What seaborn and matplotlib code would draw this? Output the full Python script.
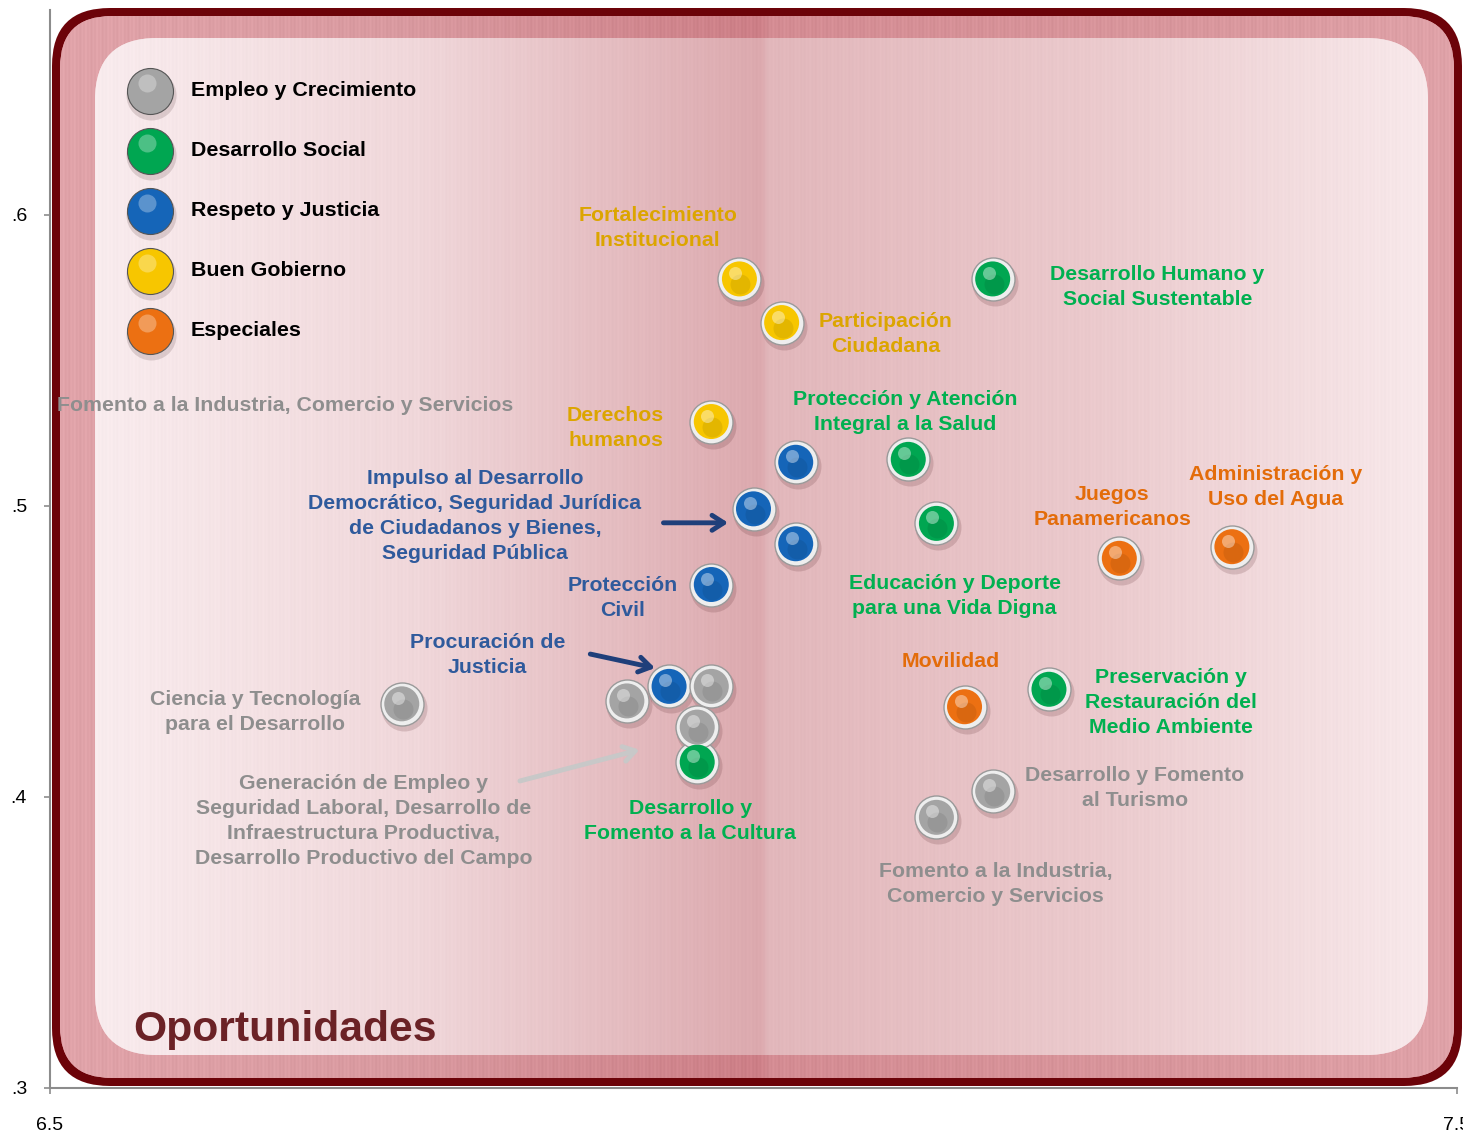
import numpy as np
import pandas as pd
import matplotlib
matplotlib.use("Agg")
import matplotlib.pyplot as plt
import seaborn as sns
from matplotlib.patches import FancyBboxPatch
from matplotlib.colors import to_rgb
from matplotlib.transforms import offset_copy

# ---------------- data ----------------
categories = ["Empleo y Crecimiento", "Desarrollo Social", "Respeto y Justicia",
              "Buen Gobierno", "Especiales"]
ball_colors = ["#a4a4a4", "#00a651", "#1565b8", "#f7c600", "#ec7012"]

point_group = ["Buen Gobierno", "Buen Gobierno", "Buen Gobierno",
               "Desarrollo Social", "Desarrollo Social", "Desarrollo Social",
               "Desarrollo Social", "Desarrollo Social",
               "Respeto y Justicia", "Respeto y Justicia", "Respeto y Justicia",
               "Respeto y Justicia", "Respeto y Justicia",
               "Empleo y Crecimiento", "Empleo y Crecimiento", "Empleo y Crecimiento",
               "Empleo y Crecimiento", "Empleo y Crecimiento", "Empleo y Crecimiento",
               "Especiales", "Especiales", "Especiales"]
point_x = [6.990, 7.020, 6.970,
           7.170, 7.110, 7.130, 7.210, 6.960,
           7.030, 7.000, 7.030, 6.970, 6.940,
           6.750, 6.910, 6.970, 6.960, 7.170, 7.130,
           7.260, 7.340, 7.150]
point_y = [0.578, 0.563, 0.529,
           0.578, 0.516, 0.494, 0.437, 0.412,
           0.515, 0.499, 0.487, 0.473, 0.438,
           0.432, 0.433, 0.438, 0.424, 0.402, 0.393,
           0.482, 0.486, 0.431]

label_text = ["Fortalecimiento\nInstitucional", "Participación\nCiudadana",
              "Derechos\nhumanos", "Desarrollo Humano y\nSocial Sustentable",
              "Protección y Atención\nIntegral a la Salud",
              "Impulso al Desarrollo\nDemocrático, Seguridad Jurídica\nde Ciudadanos y Bienes,\nSeguridad Pública",
              "Protección\nCivil", "Procuración de\nJusticia",
              "Ciencia y Tecnología\npara el Desarrollo",
              "Generación de Empleo y\nSeguridad Laboral, Desarrollo de\nInfraestructura Productiva,\nDesarrollo Productivo del Campo",
              "Desarrollo y\nFomento a la Cultura",
              "Educación y Deporte\npara una Vida Digna",
              "Juegos\nPanamericanos", "Administración y\nUso del Agua",
              "Movilidad", "Preservación y\nRestauración del\nMedio Ambiente",
              "Desarrollo y Fomento\nal Turismo",
              "Fomento a la Industria,\nComercio y Servicios",
              "Fomento a la Industria, Comercio y Servicios"]
label_group = ["Buen Gobierno", "Buen Gobierno", "Buen Gobierno",
               "Desarrollo Social", "Desarrollo Social", "Respeto y Justicia",
               "Respeto y Justicia", "Respeto y Justicia", "Empleo y Crecimiento",
               "Empleo y Crecimiento", "Desarrollo Social", "Desarrollo Social",
               "Especiales", "Especiales", "Especiales", "Desarrollo Social",
               "Empleo y Crecimiento", "Empleo y Crecimiento", "Empleo y Crecimiento"]
label_x = [6.932, 7.094, 6.902, 7.287, 7.108, 6.802, 6.907, 6.811, 6.646,
           6.723, 6.955, 7.143, 7.255, 7.371, 7.140, 7.297, 7.271, 7.172, 6.667]
label_y = [0.5955, 0.5591, 0.5268, 0.5753, 0.5323, 0.4966, 0.4684, 0.4488,
           0.4292, 0.3918, 0.3918, 0.4691, 0.4997, 0.5065, 0.4467, 0.4323,
           0.4031, 0.3701, 0.5344]
text_colors = {"Empleo y Crecimiento": "#8e8e8e", "Desarrollo Social": "#00b050",
               "Respeto y Justicia": "#2f5a9c", "Buen Gobierno": "#dca500",
               "Especiales": "#e36c0a"}

arrow_start = [(6.936, 0.4942), (6.884, 0.4491), (6.834, 0.4055)]
arrow_end = [(6.982, 0.4942), (6.930, 0.4443), (6.919, 0.4162)]
arrow_color = ["#1f3f7a", "#1f3f7a", "#c8c8c8"]

y_ticks = [0.3, 0.4, 0.5, 0.6]
y_tick_labels = [".3", ".4", ".5", ".6"]
x_ticks = [6.5, 7.5]
x_tick_labels = ["6.5", "7.5"]

df = pd.DataFrame({"x": point_x, "y": point_y, "grupo": point_group})

# ---------------- figure ----------------
sns.set_theme(style="white")
plt.rcParams["font.family"] = ["Liberation Sans", "DejaVu Sans"]

W, H = 1463, 1134
fig = plt.figure(figsize=(W / 100, H / 100), dpi=100)
fig.patch.set_facecolor("white")

# background decoration (pixel coordinates)
bg = fig.add_axes([0, 0, 1, 1], zorder=0)
bg.set_xlim(0, W)
bg.set_ylim(H, 0)
bg.axis("off")

def grad_image(stops, clip, amp):
    xs = np.arange(W) + 0.5
    pos = [p for p, _ in stops]
    cols = np.array([to_rgb(c) for _, c in stops])
    img = np.stack([np.interp(xs, pos, cols[:, k]) for k in range(3)], axis=-1)
    # fine vertical stripes like the original texture
    stripe = amp * (np.sin(xs * 1.7) + 0.6 * np.sin(xs * 0.53))
    img = np.clip(img + stripe[:, None], 0, 1)
    img = np.repeat(img[None, :, :], 4, axis=0)
    im = bg.imshow(img, extent=(0, W, H, 0), aspect="auto",
                   interpolation="nearest", zorder=clip.get_zorder() + 0.1)
    im.set_clip_path(clip)

outer = FancyBboxPatch((52, 8), 1410, 1078, boxstyle="round,pad=0,rounding_size=58",
                       fc="#6c0309", ec="none", zorder=1)
bg.add_patch(outer)
band = FancyBboxPatch((60, 16), 1394, 1062, boxstyle="round,pad=0,rounding_size=52",
                      fc="#d8939a", ec="none", zorder=2)
bg.add_patch(band)
grad_image([(0, "#e2a5ab"), (400, "#d99aa0"), (760, "#cd7f87"), (770, "#d48c93"),
            (1200, "#d9979d"), (W, "#e0a3a9")], band, 0.012)
inner = FancyBboxPatch((95, 38), 1333, 1017, boxstyle="round,pad=0,rounding_size=62",
                       fc="#f0d6d9", ec="none", zorder=3)
bg.add_patch(inner)
grad_image([(95, "#f9ecee"), (420, "#f0d7da"), (762, "#dca9ae"), (768, "#e2b7bb"),
            (1100, "#ebcacd"), (1428, "#f8e9eb")], inner, 0.005)

# main axes
ax = fig.add_axes([50 / W, 1 - 1088 / H, 1407 / W, 1078 / H], zorder=2)
ax.set_facecolor("none")
ax.set_xlim(6.5, 7.5)
ax.set_ylim(0.3, 0.6704)

palette = dict(zip(categories, ball_colors))

def px2s(d):
    return (d * 0.72) ** 2

# shadow
sh = offset_copy(ax.transData, fig=fig, x=2, y=-4, units="dots")
ax.scatter(df.x, df.y, s=px2s(46), color="#5a2a2e", alpha=0.18, lw=0,
           transform=sh, zorder=3)
# silver rim
ax.scatter(df.x, df.y, s=px2s(43), color="#eeeeee", edgecolor="#9a9a9a",
           lw=1.0, zorder=4)
# colored ball
sns.scatterplot(data=df, x="x", y="y", hue="grupo", palette=palette,
                s=px2s(35), edgecolor="none", linewidth=0, legend=False,
                ax=ax, zorder=5)
# lower shade
sd = offset_copy(ax.transData, fig=fig, x=1, y=-5, units="dots")
ax.scatter(df.x, df.y, s=px2s(20), color="black", alpha=0.08, lw=0,
           transform=sd, zorder=6)
# highlight
hl = offset_copy(ax.transData, fig=fig, x=-4, y=6, units="dots")
ax.scatter(df.x, df.y, s=px2s(13), color="white", alpha=0.40, lw=0,
           transform=hl, zorder=7)

# labels
for t, g, x, y in zip(label_text, label_group, label_x, label_y):
    ax.text(x, y, t, ha="center", va="center", fontsize=15.3, fontweight="bold",
            color=text_colors[g], linespacing=1.40, zorder=8)

# arrows
for (x0, y0), (x1, y1), c in zip(arrow_start, arrow_end, arrow_color):
    ax.annotate("", xy=(x1, y1), xytext=(x0, y0),
                arrowprops=dict(arrowstyle="->,head_length=0.7,head_width=0.45",
                                color=c, lw=3.5, shrinkA=0, shrinkB=0),
                zorder=8)

# legend drawn as spheres
leg_x = 100 / 1407
leg_y0 = (1088 - 91) / 1078
leg_step = 60 / 1078
for i, (cat, col) in enumerate(zip(categories, ball_colors)):
    yy = leg_y0 - i * leg_step
    ax.scatter([leg_x], [yy], s=px2s(50), color="#3a1a1a", alpha=0.15, lw=0,
               transform=offset_copy(ax.transAxes, fig=fig, x=1, y=-4, units="dots"),
               zorder=4, clip_on=False)
    ax.scatter([leg_x], [yy], s=px2s(46), color=col, edgecolor="#555555", lw=0.8,
               transform=ax.transAxes, zorder=5, clip_on=False)
    ax.scatter([leg_x], [yy], s=px2s(18), color="white", alpha=0.30, lw=0,
               transform=offset_copy(ax.transAxes, fig=fig, x=-3, y=8, units="dots"),
               zorder=6, clip_on=False)
    ax.text(leg_x + 41 / 1407, yy, cat, transform=ax.transAxes, ha="left",
            va="center", fontsize=15.4, fontweight="bold", color="black", zorder=8)

# title
ax.text(83 / 1407, 58 / 1078, "Oportunidades", transform=ax.transAxes,
        ha="left", va="center", fontsize=30.8, fontweight="bold", color="#6b2226",
        zorder=8)

# axes styling
ax.set_xticks(x_ticks)
ax.set_xticklabels(x_tick_labels)
ax.set_yticks(y_ticks)
ax.set_yticklabels(y_tick_labels)
ax.set_xlabel("")
ax.set_ylabel("")
for side in ["top", "right"]:
    ax.spines[side].set_visible(False)
for side in ["left", "bottom"]:
    ax.spines[side].set_color("#8c8c8c")
    ax.spines[side].set_linewidth(1.5)
ax.tick_params(axis="y", direction="out", length=4.5, width=1.2, colors="#8c8c8c",
               labelcolor="black", labelsize=14, pad=12, left=True)
ax.tick_params(axis="x", direction="out", length=4, width=1.2, colors="#8c8c8c",
               labelcolor="black", labelsize=14, pad=17, bottom=True)

fig.savefig("out.png", dpi=100)
